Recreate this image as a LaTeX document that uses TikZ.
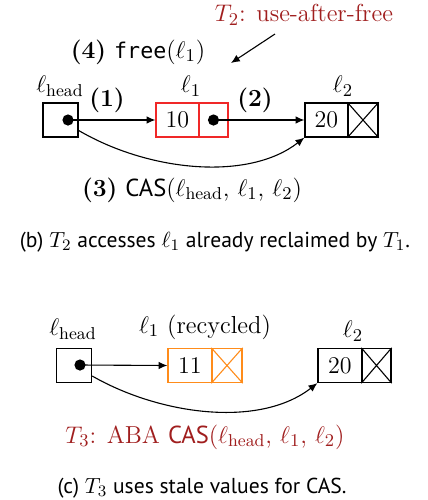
\documentclass[tikz,border=0pt]{standalone}
\usepackage{fontspec}
\setsansfont{PT Sans}
\setmonofont{DejaVu Sans Mono}[Scale=0.88]
\usetikzlibrary{arrows.meta}
\definecolor{errred}{HTML}{A01E1E}
\definecolor{boxred}{HTML}{F02828}
\definecolor{boxorange}{HTML}{FF8C1A}
\tikzset{
  cell/.style={draw, line width=0.65pt, minimum height=17pt, inner sep=0pt, anchor=center},
  headcell/.style={cell, minimum width=17.5pt},
  valcell/.style={cell, minimum width=21.5pt},
  ptrcell/.style={cell, minimum width=14.75pt},
  ptrdot/.style={circle, fill=black, minimum size=5.6pt, inner sep=0pt},
  link/.style={line width=0.55pt, -{Latex[length=4.4pt,width=3.8pt]}},
  cellfont/.style={font=\fontsize{12}{14}\selectfont},
  lbl/.style={inner sep=0pt, font=\fontsize{12.3}{15}\selectfont},
  captext/.style={inner sep=0pt, font=\sffamily\fontsize{10.8}{13}\selectfont},
}
\begin{document}
\begin{tikzpicture}[x=0.5pt, y=-0.5pt]
\useasboundingbox (0,0) rectangle (428,500);

% ---- (b) use-after-free ----
\node[headcell] (hb) at (60.5,120) {};
\node[ptrdot] (hbdot) at (68,120) {};
\node[valcell, boxred, cellfont, text=black] (b1v) at (177.5,120) {10};
\node[ptrcell, boxred, minimum width=14.5pt] (b1p) at (213.5,120) {};
\node[ptrdot] (b1dot) at (213.5,120) {};
\node[valcell, cellfont] (b2v) at (326.5,120) {20};
\node[ptrcell, minimum width=15pt] (b2n) at (363,120) {};
\draw[line width=0.55pt] (b2n.north west) -- (b2n.south east) (b2n.south west) -- (b2n.north east);

\node[lbl] (bhl) at (60,86) {$\ell_{\mathrm{head}}$};
\node[lbl] (b1l) at (191,86) {$\ell_1$};
\node[lbl] (b2l) at (343,86) {$\ell_2$};
\node[lbl] (bs1) at (107,100) {\textbf{(1)}};
\node[lbl] (bs2) at (255,100) {\textbf{(2)}};
\node[lbl] (bs4) at (138,52) {\textbf{(4)} \texttt{free}($\ell_1$)};
\node[lbl, text=errred] (bt2) at (304,15) {$T_2$: use-after-free};
\node[lbl] (bs3) at (192,190) {\textbf{(3)} \textsf{CAS}($\ell_{\mathrm{head}}$, $\ell_1$, $\ell_2$)};
\coordinate (bt2tail) at (275,34);
\coordinate (bt2tip) at (231,63);

\draw[link] (hbdot.center) -- (b1v.west);
\draw[link] (b1dot.center) -- (b2v.west);
\draw[link] (hb.-30) .. controls +(72,42) and +(-55,43) .. (b2v.south west);
\draw[link] (bt2tail) -- (bt2tip);

\node[captext] (capb) at (215,242) {(b) $T_2$ accesses $\ell_1$ already reclaimed by $T_1$.};

% ---- (c) ABA ----
\node[headcell] (ch) at (74,365.5) {};
\node[ptrdot] (chdot) at (80,365) {};
\node[valcell, boxorange, minimum width=22pt, cellfont, text=black] (c1v) at (190,365.5) {11};
\node[ptrcell, boxorange, minimum width=15pt] (c1n) at (227,365.5) {};
\draw[boxorange, line width=0.55pt] (c1n.north west) -- (c1n.south east) (c1n.south west) -- (c1n.north east);
\node[valcell, minimum width=22pt, cellfont] (c2v) at (340,365.5) {20};
\node[ptrcell, minimum width=14.5pt] (c2n) at (376.5,365.5) {};
\draw[line width=0.55pt] (c2n.north west) -- (c2n.south east) (c2n.south west) -- (c2n.north east);

\node[lbl] (chl) at (73,329) {$\ell_{\mathrm{head}}$};
\node[lbl] (c1l) at (205,327) {$\ell_1$ (recycled)};
\node[lbl] (c2l) at (353,331) {$\ell_2$};
\node[lbl, text=errred] (ct3) at (205,437) {$T_3$: ABA \textsf{CAS}($\ell_{\mathrm{head}}$, $\ell_1$, $\ell_2$)};

\draw[link] (chdot.center) -- (c1v.west);
\draw[link] (ch.-30) .. controls +(68,39) and +(-58,45) .. (c2v.south west);

\node[captext] (capc) at (202,488) {(c) $T_3$ uses stale values for \textsf{CAS}.};
\end{tikzpicture}
\end{document}
